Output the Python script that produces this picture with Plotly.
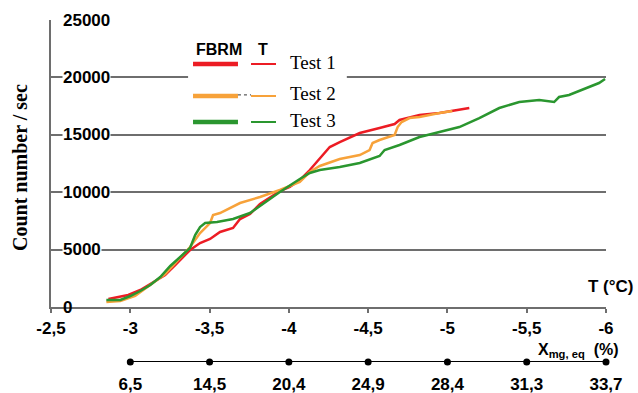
import plotly.graph_objects as go

# ---- data ----
t1_x = [-2.862, -2.987, -3.063, -3.126, -3.220, -3.283, -3.346, -3.377, -3.440, -3.503, -3.566, -3.648,
        -3.692, -3.755, -3.818, -3.943, -4.006, -4.069, -4.132, -4.195, -4.258, -4.321, -4.447, -4.572,
        -4.667, -4.698, -4.824, -4.950, -5.075, -5.138]
t1_y = [697, 1045, 1481, 2003, 2787, 3658, 4529, 4965, 5574, 5923, 6533, 6881,
        7665, 8100, 8971, 10104, 10452, 11062, 11933, 12891, 13936, 14372, 15155, 15591,
        15939, 16288, 16723, 16897, 17159, 17333]

t2_x = [-2.849, -2.937, -3.031, -3.126, -3.220, -3.314, -3.377, -3.440, -3.503, -3.522, -3.566, -3.692,
        -3.818, -3.943, -4.069, -4.132, -4.195, -4.321, -4.447, -4.509, -4.528, -4.572, -4.667, -4.686,
        -4.711, -4.761, -4.824, -4.950, -5.031]
t2_y = [436, 523, 958, 1916, 2874, 4268, 5226, 6445, 7316, 8013, 8187, 9058,
        9581, 10191, 10888, 11758, 12281, 12891, 13239, 13675, 14284, 14546, 14981, 15678,
        16114, 16462, 16549, 16897, 17072]

t3_x = [-2.849, -2.937, -3.000, -3.063, -3.126, -3.189, -3.252, -3.314, -3.377, -3.409, -3.440, -3.472,
        -3.547, -3.648, -3.755, -3.818, -3.943, -4.069, -4.132, -4.195, -4.321, -4.447, -4.572, -4.604,
        -4.698, -4.824, -4.950, -5.075, -5.201, -5.327, -5.453, -5.579, -5.673, -5.704, -5.767, -5.830,
        -5.893, -5.956, -5.994]
t3_y = [610, 610, 958, 1394, 1916, 2613, 3571, 4355, 5139, 6271, 6968, 7316,
        7404, 7665, 8187, 8797, 10017, 11149, 11671, 11933, 12194, 12542, 13152, 13675,
        14110, 14807, 15243, 15678, 16462, 17333, 17856, 18030, 17856, 18291, 18465, 18814,
        19162, 19510, 19859]

t_ticks = [-2.5, -3, -3.5, -4, -4.5, -5, -5.5, -6]
t_labels = ["-2,5", "-3", "-3,5", "-4", "-4,5", "-5", "-5,5", "-6"]
xmg_ticks = [-3, -3.5, -4, -4.5, -5, -5.5, -6]
xmg_labels = ["6,5", "14,5", "20,4", "24,9", "28,4", "31,3", "33,7"]
y_ticks = [0, 5000, 10000, 15000, 20000, 25000]

series_names = ["Test 1", "Test 2", "Test 3"]
colors = ["#ec1c24", "#f7a23a", "#2a962f"]

SANS = "Liberation Sans, Arial, sans-serif"
SERIF = "Liberation Serif, Times New Roman, serif"
GRID = "#6e6e6e"

fig = go.Figure()
for xs, ys, c, n in zip([t1_x, t2_x, t3_x], [t1_y, t2_y, t3_y], colors, series_names):
    fig.add_trace(go.Scatter(x=xs, y=ys, mode="lines", name=n,
                             line=dict(color=c, width=2.5), showlegend=False))

# secondary X_mg,eq scale
fig.add_trace(go.Scatter(x=xmg_ticks, y=[0] * len(xmg_ticks), xaxis="x2", yaxis="y2",
                         mode="lines+markers", line=dict(color="black", width=2),
                         marker=dict(color="black", size=7), cliponaxis=False, showlegend=False))

y_dom0 = (362 - 307) / 342

fig.update_layout(
    width=638, height=393,
    margin=dict(l=51, r=32, t=20, b=31, autoexpand=False),
    plot_bgcolor="white", paper_bgcolor="white",
    showlegend=False,
    xaxis=dict(range=[-2.5, -6], tickvals=t_ticks, ticktext=t_labels, automargin=False,
               showgrid=False, zeroline=False, showline=True, linecolor=GRID, linewidth=2,
               ticks="outside", ticklen=4, tickcolor=GRID, tickwidth=1.5,
               ticklabelstandoff=1,
               tickfont=dict(family=SANS, size=17, color="black", weight="bold"),
               anchor="y"),
    yaxis=dict(range=[0, 25000], domain=[y_dom0, 1], tickvals=y_ticks, automargin=False,
               showgrid=True, gridcolor=GRID, gridwidth=2, zeroline=False,
               showline=True, linecolor=GRID, linewidth=2, showticklabels=False),
    xaxis2=dict(range=[-2.5, -6], tickvals=xmg_ticks, ticktext=xmg_labels, anchor="y2",
                automargin=False,
                showgrid=False, zeroline=False, showline=False, ticks="",
                ticklabelstandoff=10,
                tickfont=dict(family=SANS, size=17, color="black", weight="bold")),
    yaxis2=dict(range=[0, 1], domain=[0, 0.05], visible=False, automargin=False),
)

shapes = []
# legend box
shapes.append(dict(type="rect", xref="paper", yref="paper", x0=0.247, x1=0.533,
                   y0=0.680, y1=0.947, fillcolor="white", line=dict(width=0), layer="above"))
leg_y = [0.8713, 0.7778, 0.7018]
for c, yy in zip(colors, leg_y):
    shapes.append(dict(type="line", xref="paper", yref="paper", x0=0.2559, x1=0.3369,
                       y0=yy, y1=yy, line=dict(color=c, width=4.5), layer="above"))
    shapes.append(dict(type="line", xref="paper", yref="paper", x0=0.3604, x1=0.4054,
                       y0=yy, y1=yy, line=dict(color=c, width=2), layer="above"))
shapes.append(dict(type="line", xref="paper", yref="paper", x0=0.3369, x1=0.3604,
                   y0=0.781, y1=0.781, line=dict(color="#333333", width=1, dash="dot"),
                   layer="above"))
fig.update_layout(shapes=shapes)

ann = []
# y tick labels drawn inside the plot with white background
for v in y_ticks:
    a = dict(text=str(v), xref="paper", yref="y", x=0.0198, y=v, xanchor="left",
             yanchor="middle", showarrow=False, borderpad=0,
             font=dict(family=SANS, size=17, color="black", weight="bold"))
    if v > 0:
        a["bgcolor"] = "white"
    ann.append(a)
ann.append(dict(text="FBRM", xref="paper", yref="paper", x=0.3032, y=0.9152, showarrow=False,
                xanchor="center", yanchor="middle",
                font=dict(family=SANS, size=16, color="black", weight="bold")))
ann.append(dict(text="T", xref="paper", yref="paper", x=0.382, y=0.9152, showarrow=False,
                xanchor="center", yanchor="middle",
                font=dict(family=SANS, size=16, color="black", weight="bold")))
for n, yy in zip(series_names, [0.8743, 0.7865, 0.7076]):
    ann.append(dict(text=n, xref="paper", yref="paper", x=0.427, y=yy, xanchor="left",
                    yanchor="middle",
                    showarrow=False, font=dict(family=SERIF, size=19, color="black")))
ann.append(dict(text="Count number / sec", xref="paper", yref="paper", x=-0.0559, y=0.57,
                xanchor="center", yanchor="middle",
                textangle=-90, showarrow=False,
                font=dict(family=SERIF, size=20, color="black", weight="bold")))
ann.append(dict(text="T (°C)", xref="paper", yref="paper", x=1.009, y=0.2193, showarrow=False,
                xanchor="center", yanchor="middle",
                font=dict(family=SANS, size=17, color="black", weight="bold")))
ann.append(dict(text="X<sub>mg, eq</sub>  (%)", xref="paper", yref="paper", x=1.027, y=0.035,
                xanchor="right", yanchor="middle", showarrow=False,
                font=dict(family=SANS, size=16, color="black", weight="bold")))
fig.update_layout(annotations=ann)

fig.write_html("out.html")
